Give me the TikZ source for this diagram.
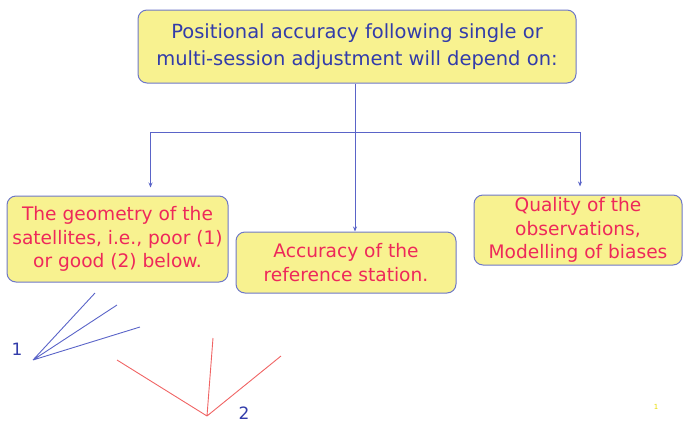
\documentclass[tikz,border=0pt]{standalone}
\usepackage{fontspec}
\setmainfont{DejaVu Sans}
\usepackage{tikz}
\usetikzlibrary{positioning, arrows.meta}

\definecolor{boxfill}{RGB}{248,242,144}
\definecolor{boxline}{RGB}{110,120,200}
\definecolor{textblue}{RGB}{50,60,170}
\definecolor{textred}{RGB}{238,40,90}
\definecolor{linered}{RGB}{240,100,100}
\definecolor{lineblue}{RGB}{90,100,200}

\tikzset{
  yellowbox/.style={draw=boxline, fill=boxfill, rounded corners=9pt, line width=1pt,
    align=center, inner sep=0pt, font=\fontsize{18.6}{23.5}\selectfont},
  arr/.style={-{Stealth[length=5pt, width=4pt]}, draw=lineblue, line width=0.9pt},
}

\begin{document}
\begin{tikzpicture}[x=1pt, y=-1pt]
    \useasboundingbox (0,0) rectangle (683,424);
    \node[yellowbox, text=textblue, minimum width=438pt, minimum height=73pt,
      font=\fontsize{19.5}{27}\selectfont] (top) at (357,46.5)
      {Positional accuracy following single or\\multi-session adjustment will depend on:};
    \node[yellowbox, text=textred, minimum width=221pt, minimum height=86pt] (geom) at (117.5,239)
      {The geometry of the\\satellites, i.e., poor (1)\\or good (2) below.};
    \node[yellowbox, text=textred, minimum width=220pt, minimum height=61pt] (refst) at (346,262.5)
      {Accuracy of the\\reference station.};
    \node[yellowbox, text=textred, minimum width=208pt, minimum height=70pt] (obs) at (578,230)
      {Quality of the\\observations,\\Modelling of biases};
    \coordinate (split) at (355,132);
    \draw[arr, -] (split |- top.south) -- (split);
    \draw[arr, shorten >=8pt] (split) -| ([xshift=33pt]geom.north);
    \draw[arr] (split) -- (split |- refst.north);
    \draw[arr, shorten >=8pt] (split) -| ([xshift=2pt]obs.north);
    % poor geometry
    \coordinate (poor) at (33,360);
    \draw[lineblue, line width=0.9pt] (poor) -- (95,293) (poor) -- (117,305) (poor) -- (140,327);
    \node[text=textblue, inner sep=0pt, font=\fontsize{17}{18}\selectfont] (one) at (17,349) {1};
    % good geometry
    \coordinate (good) at (207,416);
    \draw[linered, line width=0.9pt] (good) -- (117,360) (good) -- (213,338) (good) -- (281,356);
    \node[text=textblue, inner sep=0pt, font=\fontsize{17}{18}\selectfont] (two) at (244,413) {2};
    \node[text=yellow!80!olive, inner sep=0pt, font=\fontsize{7}{8}\selectfont] (pgnum) at (656,407) {1};
\end{tikzpicture}
\end{document}
